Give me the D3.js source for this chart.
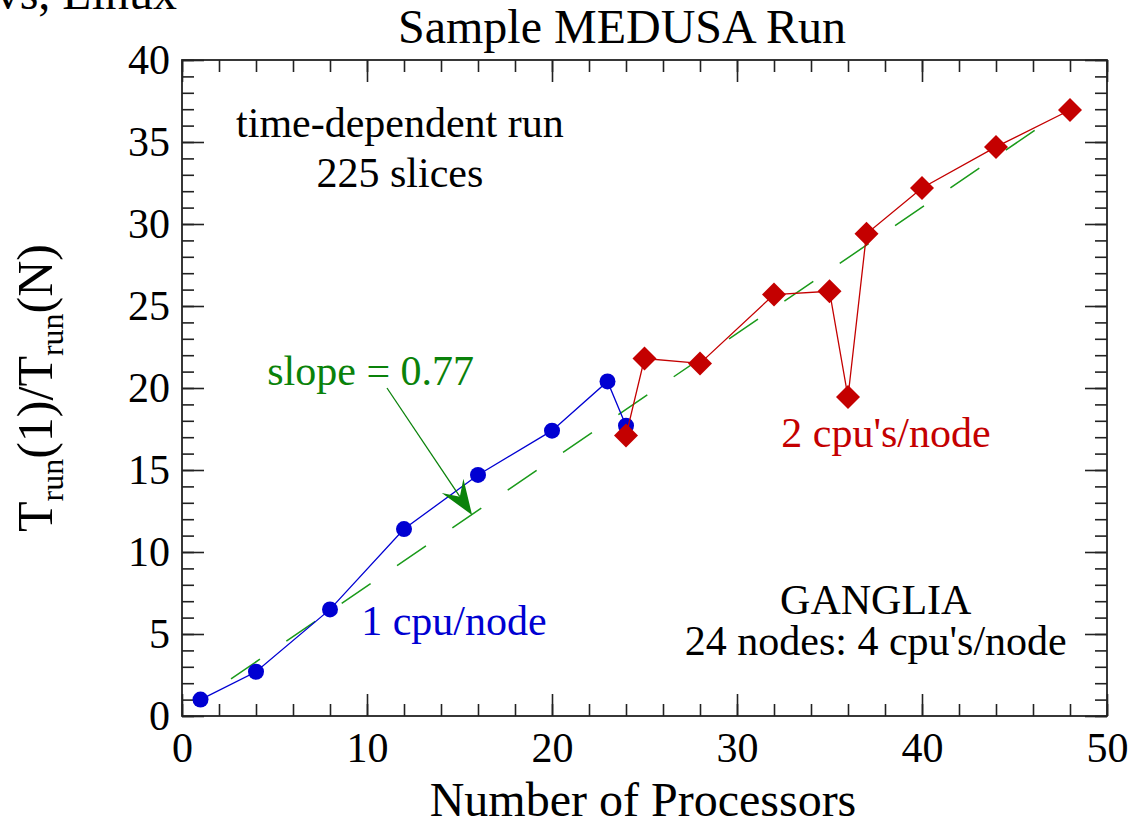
<!DOCTYPE html>
<html>
<head>
<meta charset="utf-8">
<script src="https://cdn.jsdelivr.net/npm/d3@7"></script>
<style>
  html, body { margin: 0; padding: 0; background: #fff; }
  svg { display: block; }
  text { font-family: "Liberation Serif", "Times New Roman", serif; }
</style>
</head>
<body>
<svg id="chart" width="1138" height="823"></svg>
<script>
// ---- data ----
const oneCpuProcs = [1, 4, 8, 12, 16, 20, 23, 24];
const oneCpuSpeedup = [1.0, 2.7, 6.5, 11.4, 14.7, 17.4, 20.4, 17.7];
const twoCpuProcs = [24, 25, 28, 32, 35, 36, 37, 40, 44, 48];
const twoCpuSpeedup = [17.1, 21.8, 21.5, 25.7, 25.9, 19.45, 29.4, 32.2, 34.7, 36.95];
const fitSlope = 0.77;
const fitIntercept = 0.22;
const fitRange = [2.65, 48];
const xMajorTicks = [0, 10, 20, 30, 40, 50];
const xMinorTicks = d3.range(0, 51, 2);
const yMajorTicks = [0, 5, 10, 15, 20, 25, 30, 35, 40];
const yMinorTicks = d3.range(0, 41, 1);

// ---- layout ----
const svg = d3.select("#chart");
const L = 182, R = 1107, T = 60, B = 716;
const x = d3.scaleLinear().domain([0, 50]).range([L, R]);
const y = d3.scaleLinear().domain([0, 40]).range([B, T]);
const FONT = "'Liberation Serif', 'Times New Roman', serif";
const BLUE = "#0000d2", RED = "#c40000", GREEN = "#0a820a";

// cut-off header fragment
svg.append("text").attr("x", 177).attr("y", 9).attr("text-anchor", "end")
  .attr("font-size", 48).attr("fill", "#000").text("vs, Linux");

// title
svg.append("text").attr("x", 622).attr("y", 43).attr("text-anchor", "middle")
  .attr("font-size", 48).attr("fill", "#000").text("Sample MEDUSA Run");

// ---- axes / ticks ----
function styleAxis(g) {
  g.select(".domain").remove();
  g.selectAll(".tick line").attr("stroke", "#222").attr("stroke-width", 1.6);
  g.selectAll(".tick text").attr("font-family", FONT).attr("font-size", 42).attr("fill", "#000");
}
const majLen = 22, minLen = 12;
// bottom
svg.append("g").attr("transform", `translate(0,${B})`)
  .call(d3.axisBottom(x).tickValues(xMinorTicks).tickSize(-minLen).tickFormat(""))
  .call(styleAxis);
svg.append("g").attr("transform", `translate(0,${B})`)
  .call(d3.axisBottom(x).tickValues(xMajorTicks).tickSize(-majLen).tickPadding(16).tickFormat(d3.format("d")))
  .call(styleAxis);
// top
svg.append("g").attr("transform", `translate(0,${T})`)
  .call(d3.axisTop(x).tickValues(xMinorTicks).tickSize(-minLen).tickFormat(""))
  .call(styleAxis);
svg.append("g").attr("transform", `translate(0,${T})`)
  .call(d3.axisTop(x).tickValues(xMajorTicks).tickSize(-majLen).tickFormat(""))
  .call(styleAxis);
// left
svg.append("g").attr("transform", `translate(${L},0)`)
  .call(d3.axisLeft(y).tickValues(yMinorTicks).tickSize(-minLen).tickFormat(""))
  .call(styleAxis);
svg.append("g").attr("transform", `translate(${L},0)`)
  .call(d3.axisLeft(y).tickValues(yMajorTicks).tickSize(-majLen).tickPadding(12).tickFormat(d3.format("d")))
  .call(styleAxis);
// right
svg.append("g").attr("transform", `translate(${R},0)`)
  .call(d3.axisRight(y).tickValues(yMinorTicks).tickSize(-minLen).tickFormat(""))
  .call(styleAxis);
svg.append("g").attr("transform", `translate(${R},0)`)
  .call(d3.axisRight(y).tickValues(yMajorTicks).tickSize(-majLen).tickFormat(""))
  .call(styleAxis);

// frame
svg.append("rect").attr("x", L).attr("y", T).attr("width", R - L).attr("height", B - T)
  .attr("fill", "none").attr("stroke", "#222").attr("stroke-width", 1.8);

// axis titles
svg.append("text").attr("x", 643).attr("y", 816).attr("text-anchor", "middle")
  .attr("font-size", 48).attr("fill", "#000").text("Number of Processors");

const yl = svg.append("text").attr("transform", "translate(52,388) rotate(-90)")
  .attr("text-anchor", "middle").attr("font-size", 50).attr("fill", "#000");
yl.append("tspan").text("T");
yl.append("tspan").attr("font-size", 32).attr("dy", 11).text("run");
yl.append("tspan").attr("dy", -11).text("(1)/T");
yl.append("tspan").attr("font-size", 32).attr("dy", 11).text("run");
yl.append("tspan").attr("dy", -11).text("(N)");

// ---- fit line (dashed) ----
svg.append("line")
  .attr("x1", x(fitRange[0])).attr("y1", y(fitSlope * fitRange[0] + fitIntercept))
  .attr("x2", x(fitRange[1])).attr("y2", y(fitSlope * fitRange[1] + fitIntercept))
  .attr("stroke", "#1a9a1a").attr("stroke-width", 1.5).attr("stroke-dasharray", "35,32");

// ---- series ----
const oneData = oneCpuProcs.map((p, i) => [p, oneCpuSpeedup[i]]);
const twoData = twoCpuProcs.map((p, i) => [p, twoCpuSpeedup[i]]);
const line = d3.line().x(d => x(d[0])).y(d => y(d[1]));

svg.append("path").datum(oneData).attr("d", line)
  .attr("fill", "none").attr("stroke", BLUE).attr("stroke-width", 1.3);
svg.append("g").selectAll("circle").data(oneData).join("circle")
  .attr("cx", d => x(d[0])).attr("cy", d => y(d[1])).attr("r", 8).attr("fill", BLUE);

svg.append("path").datum(twoData).attr("d", line)
  .attr("fill", "none").attr("stroke", RED).attr("stroke-width", 1.3);
const dia = 12;
svg.append("g").selectAll("path").data(twoData).join("path")
  .attr("d", d => {
    const cx = x(d[0]), cy = y(d[1]);
    return `M${cx},${cy - dia}L${cx + dia},${cy}L${cx},${cy + dia}L${cx - dia},${cy}Z`;
  })
  .attr("fill", RED);

// ---- annotations ----
function note(tx, ty, str, color, anchor) {
  svg.append("text").attr("x", x(tx)).attr("y", y(ty)).attr("text-anchor", anchor || "middle")
    .attr("font-size", 42).attr("fill", color).text(str);
}
note(11.78, 35.3, "time-dependent run", "#000");
note(11.78, 32.26, "225 slices", "#000");
note(10.2, 20.18, "slope = 0.77", GREEN);
note(14.7, 4.94, "1 cpu/node", BLUE);
note(38.05, 16.4, "2 cpu's/node", RED);
note(37.5, 6.2, "GANGLIA", "#000");
note(37.5, 3.72, "24 nodes: 4 cpu's/node", "#000");

// arrow from slope label to fit line
const a0 = [x(11.08), y(20.0)], a1 = [x(15.68), y(12.26)];
const ang = Math.atan2(a1[1] - a0[1], a1[0] - a0[0]);
const headLen = 35, headW = 13, notch = 22;
function pt(along, side) {
  return [a1[0] - along * Math.cos(ang) - side * Math.sin(ang),
          a1[1] - along * Math.sin(ang) + side * Math.cos(ang)];
}
const back = pt(notch, 0);
svg.append("line").attr("x1", a0[0]).attr("y1", a0[1]).attr("x2", back[0]).attr("y2", back[1])
  .attr("stroke", GREEN).attr("stroke-width", 1.3);
const hp = [a1, pt(headLen, headW), back, pt(headLen, -headW)];
svg.append("path").attr("d", "M" + hp.map(p => p.join(",")).join("L") + "Z").attr("fill", GREEN);
</script>
</body>
</html>
